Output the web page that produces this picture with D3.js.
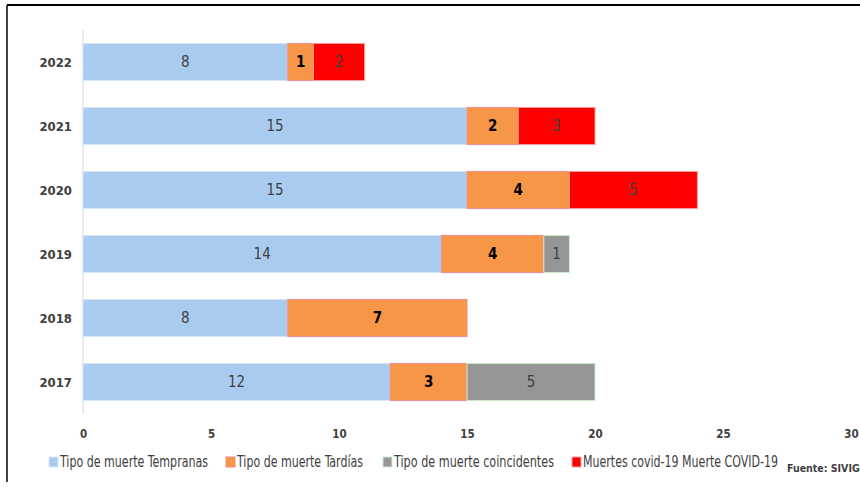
<!DOCTYPE html>
<html>
<head>
<meta charset="utf-8">
<script src="https://cdn.jsdelivr.net/npm/d3@7"></script>
<style>
  body { margin: 0; background: #fff; }
  svg text { font-family: "DejaVu Sans", sans-serif; font-stretch: condensed; }
</style>
</head>
<body>
<div id="chart"></div>
<script>
const years = ['2022', '2021', '2020', '2019', '2018', '2017']
const tempranas = [8, 15, 15, 14, 8, 12]
const tardias = [1, 2, 4, 4, 7, 3]
const coincidentes = [0, 0, 0, 1, 0, 5]
const covid = [2, 3, 5, 0, 0, 0]
const xTicks = [0, 5, 10, 15, 20, 25, 30]

const series = [
  { name: 'Tipo de muerte Tempranas', values: tempranas, fill: '#A9CBF0', stroke: '#D6E6F8', label: '#404040', bold: false },
  { name: 'Tipo de muerte Tardías', values: tardias, fill: '#F79646', stroke: '#F28C8C', label: '#000', bold: true },
  { name: 'Tipo de muerte  coincidentes', values: coincidentes, fill: '#969696', stroke: '#C6EFCE', label: '#404040', bold: false },
  { name: 'Muertes covid-19 Muerte COVID-19', values: covid, fill: '#FF0000', stroke: '#FF9E9E', label: '#404040', bold: false }
]

const width = 860, height = 487

const svg = d3.select('#chart').append('svg')
  .attr('width', width)
  .attr('height', height)

// frame lines
svg.append('line').attr('x1', 7).attr('x2', width).attr('y1', 5).attr('y2', 5)
  .attr('stroke', '#000').attr('stroke-width', 2)
svg.append('line').attr('x1', 7).attr('x2', 7).attr('y1', 5).attr('y2', 482)
  .attr('stroke', '#000').attr('stroke-width', 1.5)

const x = d3.scaleLinear()
  .domain([0, 30])
  .range([83, 851])

const y = d3.scaleBand()
  .domain(years)
  .range([30, 414])
  .paddingInner(0.42)
  .paddingOuter(0.21)

// y axis line
svg.append('line')
  .attr('x1', x(0)).attr('x2', x(0))
  .attr('y1', 30).attr('y2', 414)
  .attr('stroke', '#D9D9D9')

// stacked data
const stacked = years.map((yr, i) => {
  let acc = 0
  return series.map(s => {
    const v = s.values[i]
    const seg = { year: yr, x0: acc, x1: acc + v, v: v, s: s }
    acc += v
    return seg
  }).filter(d => d.v > 0)
}).flat()

svg.selectAll('rect.bar')
  .data(stacked)
  .enter()
  .append('rect')
    .attr('class', 'bar')
    .attr('x', d => x(d.x0))
    .attr('y', d => y(d.year))
    .attr('width', d => x(d.x1) - x(d.x0))
    .attr('height', y.bandwidth())
    .attr('fill', d => d.s.fill)
    .attr('stroke', d => d.s.stroke)
    .attr('stroke-width', 1)

svg.selectAll('text.val')
  .data(stacked)
  .enter()
  .append('text')
    .attr('class', 'val')
    .attr('x', d => (x(d.x0) + x(d.x1)) / 2)
    .attr('y', d => y(d.year) + y.bandwidth() / 2)
    .attr('dy', '0.36em')
    .attr('text-anchor', 'middle')
    .attr('font-size', 15)
    .attr('font-weight', d => d.s.bold ? 'bold' : 'normal')
    .attr('fill', d => d.s.label)
    .text(d => d.v)

// year labels
svg.append('g')
  .selectAll('text')
  .data(years)
  .enter()
  .append('text')
    .attr('x', 72)
    .attr('y', d => y(d) + y.bandwidth() / 2)
    .attr('dy', '0.36em')
    .attr('text-anchor', 'end')
    .attr('font-size', 13)
    .attr('font-weight', 'bold')
    .attr('fill', '#404040')
    .text(d => d)

// x axis
const xAxis = svg.append('g')
  .attr('transform', 'translate(0,' + 430 + ')')
  .call(d3.axisBottom(x).tickValues(xTicks).tickSize(0).tickPadding(0))
xAxis.select('.domain').remove()
xAxis.selectAll('text')
  .attr('font-size', 11.5)
  .attr('font-weight', 'bold')
  .attr('fill', '#404040')
  .attr('font-family', '"DejaVu Sans", sans-serif')
  .style('font-stretch', 'condensed')

// legend
const legendX = [49, 226, 383, 572]
const legendW = [148, 126, 160, 195]
const legend = svg.append('g')
series.forEach((s, i) => {
  const g = legend.append('g').attr('transform', 'translate(' + legendX[i] + ',462)')
  g.append('rect')
    .attr('x', 0).attr('y', -5).attr('width', 9).attr('height', 10)
    .attr('fill', s.fill)
    .attr('stroke', s.stroke)
  g.append('text')
    .attr('x', 11)
    .attr('dy', '0.36em')
    .attr('font-size', 15)
    .attr('fill', '#404040')
    .attr('textLength', legendW[i])
    .attr('lengthAdjust', 'spacingAndGlyphs')
    .text(s.name)
})

svg.append('text')
  .attr('x', 787)
  .attr('y', 468)
  .attr('dy', '0.36em')
  .attr('font-size', 10.5)
  .attr('font-weight', 'bold')
  .attr('fill', '#404040')
  .text('Fuente: SIVIGILA')
</script>
</body>
</html>
